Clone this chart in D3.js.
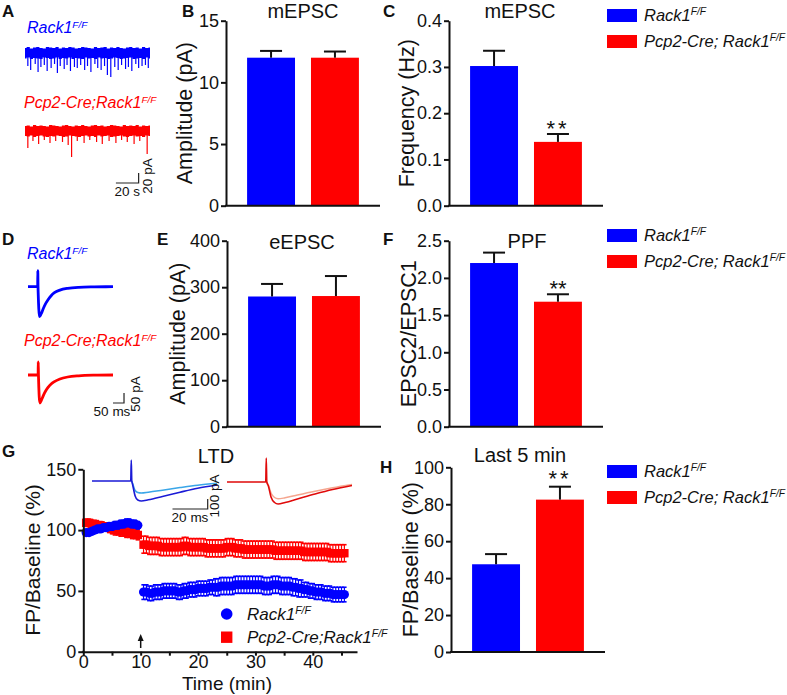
<!DOCTYPE html>
<html><head><meta charset="utf-8">
<script src="https://cdn.jsdelivr.net/npm/d3@7"></script>
<style>body{margin:0;background:#fff} svg{display:block} text{font-family:Arial,"Liberation Sans",sans-serif;fill:#111}</style>
</head><body><svg id="c" width="787" height="695"></svg>
<script>
// ---------------- DATA ----------------
const groups = ["Rack1", "Pcp2-Cre; Rack1"];
const groupsNoSpace = ["Rack1", "Pcp2-Cre;Rack1"];
const supText = "F/F";
const colors = ["#0000ff", "#ff0000"];

const mAmpMean = [12.0, 12.0], mAmpSem = [0.55, 0.5];
const mFreqMean = [0.302, 0.138], mFreqSem = [0.033, 0.017];
const eAmpMean = [280, 281], eAmpSem = [27, 43];
const ppfMean = [2.20, 1.68], ppfSem = [0.14, 0.10];
const last5Mean = [47.5, 82.5], last5Sem = [5.5, 7.0];

const ticksB = [0, 5, 10, 15];
const ticksC = [0, 0.1, 0.2, 0.3, 0.4];
const ticksE = [0, 100, 200, 300, 400];
const ticksF = [0, 0.5, 1.0, 1.5, 2.0, 2.5];
const ticksH = [0, 20, 40, 60, 80, 100];
const ticksGx = [0, 5, 10, 15, 20, 25, 30, 35, 40, 45];
const ticksGy = [0, 50, 100, 150];

// Panel A: mEPSC sample traces (time s, current pA)
const blueNoiseHi = [10,12,9,11,12,10,9,12,11,10,12,9,11,10,12,11,9,10,12,11,10,9,12,10,11,12,9,11,10,12,10,9,11,12,10,11,9,12,10,11];
const blueNoiseLo = [-11,-9,-12,-10,-11,-12,-9,-10,-12,-11,-9,-12,-10,-11,-9,-12,-10,-11,-12,-9,-11,-10,-12,-9,-11,-10,-12,-11,-9,-10,-12,-11,-10,-9,-12,-11,-10,-12,-9,-11];
const redNoiseHi = [10,11,9,12,10,11,10,9,12,11,10,9,11,12,10,9,11,10,12,10,9,11,12,10,11,9,10,12,11,10,9,12,10,11,10,12,9,11,10,11];
const redNoiseLo = [-10,-11,-9,-12,-10,-9,-11,-12,-10,-11,-9,-10,-12,-11,-9,-10,-11,-12,-10,-9,-11,-10,-12,-9,-11,-10,-9,-12,-11,-10,-9,-11,-12,-10,-9,-11,-10,-12,-9,-10];
const blueEvents = [[2.5,26],[5,34],[9,22],[11.5,38],[14,28],[17,24],[19.5,36],[23,30],[26,22],[28.5,40],[31,26],[34.5,32],[37,24],[40,36],[43.5,28],[46,30],[49,24],[52.5,34],[55,26],[58,38],[61.5,22],[64,30],[67,34],[70,26],[72.5,44],[75.5,48],[79,28],[82,34],[85,24],[88.5,32],[91,28],[94,36],[97.5,22],[100,30],[103,26],[106,24],[108.5,30]];
const redEvents = [[2.5,34],[7,20],[12,26],[17,18],[22,24],[27,20],[33,22],[38,28],[41,52],[46,20],[52,24],[57,18],[63,22],[68,26],[74,20],[80,24],[85,18],[90,22],[96,26],[101,20],[107.5,46]];

// Panel D: eEPSC sample traces (ms, pA)
const dBlue = [[0,0],[44,0],[44.5,80],[45.5,0],[46.5,-40],[49,-110],[52,-150],[60,-135],[70,-108],[80,-85],[91,-65],[105,-45],[120,-30],[145,-17],[180,-8],[230,-3],[300,-1],[386,0]];
const dRed = [[0,0],[46,0],[46.5,66],[47.5,0],[48.5,-40],[51,-110],[54,-140],[60,-128],[70,-102],[80,-80],[91,-62],[105,-45],[120,-33],[145,-20],[180,-10],[230,-4],[300,-1],[386,0]];

// Panel G inset traces (ms, pA): before (light) and after (dark) LTD
const gBlueAfter = [[0,0],[22,0],[22.3,210],[22.6,0],[23,-30],[24.5,-150],[26,-190],[28,-200],[32,-188],[40,-155],[50,-112],[60,-72],[71,-40]];
const gBlueBefore = [[22.6,0],[23,-20],[24.5,-95],[26,-115],[28,-120],[32,-112],[40,-92],[50,-66],[60,-42],[71,-22]];
const gRedAfter = [[0,0],[22,0],[22.3,240],[22.6,0],[23.5,-40],[25,-150],[27,-205],[29,-220],[33,-205],[40,-170],[50,-120],[60,-75],[71,-35]];
const gRedBefore = [[22.6,0],[23.5,-30],[25,-110],[27,-155],[29,-168],[33,-158],[40,-130],[50,-92],[60,-58],[71,-25]];

// Panel G time course
const gTime = [0.5,1,1.5,2,2.5,3,3.5,4,4.5,5,5.5,6,6.5,7,7.5,8,8.5,9,9.5,
  10.5,11,11.5,12,12.5,13,13.5,14,14.5,15,15.5,16,16.5,17,17.5,18,18.5,19,19.5,20,
  20.5,21,21.5,22,22.5,23,23.5,24,24.5,25,25.5,26,26.5,27,27.5,28,28.5,29,29.5,30,
  30.5,31,31.5,32,32.5,33,33.5,34,34.5,35,35.5,36,36.5,37,37.5,38,38.5,39,39.5,40,
  40.5,41,41.5,42,42.5,43,43.5,44,44.5,45,45.5];
const gBlueMean = [98,98,99,100,101,101,102,102,103,103,104,104,105,105,106,106,105,105,104,
  49,49,48,48,49,49,49,50,50,50, 50,50,49,49,50,50,51,51,51,52,
  52,52,52,53,53,53,53,54,54,54, 54,54,55,55,55,55,55,55,55,55,
  55,55,54,54,54,55,55,55,54,54, 54,54,53,53,52,52,51,51,50,50,
  49,49,49,48,48,48,47,47,47,47,47];
const gBlueSem = [2,2,2,2,2,2,2,2,3,3,3,3,3,3,3,3,3,3,3,
  6,6,6,6,6,6,6,6,6,6, 6,6,6,6,6,6,6,6,6,6,
  6,6,6,6,6,7,7,7,7,7, 7,7,7,7,7,7,7,7,7,7,
  7,7,7,7,7,7,7,7,7,7, 7,7,7,7,7,7,6,6,6,6,
  6,6,6,6,6,6,6,6,6,6,6];
const gRedMean = [106,106,105,105,104,104,103,103,102,101,100,100,99,99,98,98,97,97,96,
  88,88,87,87,87,87,86,86,86,86, 86,86,86,86,87,87,86,86,86,86,
  86,86,85,85,85,85,85,85,85,86, 86,86,85,85,85,84,84,84,84,84,
  84,84,84,84,84,84,83,83,83,83, 83,83,83,83,83,83,82,82,82,82,
  82,82,82,82,82,81,81,81,81,81,81];
const gRedSem = [3,3,3,3,3,3,3,3,4,4,4,4,4,4,4,4,4,4,4,
  7,7,7,7,7,7,7,7,7,7, 7,7,7,7,7,7,7,7,7,7,
  7,7,7,7,7,7,7,7,7,7, 7,7,7,7,7,7,7,7,7,7,
  7,7,7,7,7,7,7,7,7,7, 7,7,7,7,7,7,7,7,7,7,
  7,7,7,7,7,7,7,7,7,7,7];

// ---------------- DRAWING ----------------
const svg = d3.select("#c");
const FONT = 'Arial,"Liberation Sans",sans-serif';
const TICK_FS = 18, LAB_FS = 21.5, TITLE_FS = 20, LEG_FS = 16.5;

function supLabel(sel, main, sup) {
  sel.append("tspan").text(main);
  sel.append("tspan").text(sup).attr("font-size", "0.62em").attr("dy", "-0.55em");
}
function txt(x, y, s, size, opts = {}) {
  const t = svg.append("text").attr("x", x).attr("y", y).attr("font-size", size)
    .attr("text-anchor", opts.anchor || "start").text(s);
  if (opts.bold) t.attr("font-weight", "bold");
  if (opts.italic) t.attr("font-style", "italic");
  if (opts.fill) t.style("fill", opts.fill);
  if (opts.ls) t.attr("letter-spacing", opts.ls);
  return t;
}
function rotText(x, y, s, size) {
  return svg.append("text").attr("transform", `translate(${x},${y}) rotate(-90)`)
    .attr("text-anchor", "middle").attr("font-size", size).text(s);
}
function styleAxis(g, fs) {
  g.select(".domain").attr("stroke", "#111").attr("stroke-width", 2);
  g.selectAll(".tick line").attr("stroke", "#111").attr("stroke-width", 2);
  g.selectAll(".tick text").attr("font-size", fs).attr("font-family", FONT).style("fill", "#111");
}

const AXW = 154;
function barPanel(cfg) {
  const x = d3.scaleBand().domain(groups).range([cfg.x0, cfg.x0 + AXW]).paddingInner(0.25).paddingOuter(0.33);
  const y = d3.scaleLinear().domain([0, cfg.max]).range([cfg.y0, cfg.y1]);
  const g = svg.append("g");
  g.selectAll("rect.bar").data(groups).join("rect")
    .attr("x", d => x(d)).attr("width", x.bandwidth())
    .attr("y", (d, i) => y(cfg.mean[i])).attr("height", (d, i) => y(0) - y(cfg.mean[i]))
    .attr("fill", (d, i) => colors[i]);
  const eb = g.selectAll("g.eb").data(groups).join("g");
  eb.append("line").attr("x1", d => x(d) + x.bandwidth() / 2).attr("x2", d => x(d) + x.bandwidth() / 2)
    .attr("y1", (d, i) => y(cfg.mean[i])).attr("y2", (d, i) => y(cfg.mean[i] + cfg.sem[i]))
    .attr("stroke", "#111").attr("stroke-width", 2);
  eb.append("line").attr("x1", d => x(d) + x.bandwidth() / 2 - 11).attr("x2", d => x(d) + x.bandwidth() / 2 + 11)
    .attr("y1", (d, i) => y(cfg.mean[i] + cfg.sem[i])).attr("y2", (d, i) => y(cfg.mean[i] + cfg.sem[i]))
    .attr("stroke", "#111").attr("stroke-width", 2);
  const ax = g.append("g").attr("transform", `translate(${cfg.x0},0)`)
    .call(d3.axisLeft(y).tickValues(cfg.ticks).tickFormat(cfg.fmt).tickSize(5).tickSizeOuter(0).tickPadding(2));
  styleAxis(ax, TICK_FS);
  g.append("line").attr("x1", cfg.x0 - 1).attr("x2", cfg.x0 + AXW).attr("y1", y(0)).attr("y2", y(0))
    .attr("stroke", "#111").attr("stroke-width", 2);
  txt(cfg.titleX, cfg.titleY, cfg.title, TITLE_FS, { anchor: "middle" });
  rotText(cfg.labX, (cfg.y0 + cfg.y1) / 2, cfg.ylabel, LAB_FS);
  if (cfg.stars) {
    const i = 1;
    txt(x(groups[i]) + x.bandwidth() / 2, cfg.starY, "**", 22, { anchor: "middle", ls: cfg.starLs || 0 });
  }
}
function barLegend(y0) {
  groups.forEach((gname, i) => {
    svg.append("rect").attr("x", 607).attr("y", y0 + i * 26).attr("width", 30).attr("height", 13).attr("fill", colors[i]);
    const t = svg.append("text").attr("x", 644).attr("y", y0 + i * 26 + 12).attr("font-size", LEG_FS).attr("font-style", "italic");
    supLabel(t, gname, supText);
  });
}

// B
barPanel({x0: 226, y0: 205.7, y1: 20.7, max: 15, ticks: ticksB, fmt: d3.format("d"), mean: mAmpMean, sem: mAmpSem,
  title: "mEPSC", titleX: 303, titleY: 18, ylabel: "Amplitude (pA)", labX: 192});
// C
barPanel({x0: 449, y0: 205.7, y1: 20.7, max: 0.4, ticks: ticksC, fmt: d3.format(".1f"), mean: mFreqMean, sem: mFreqSem,
  title: "mEPSC", titleX: 520, titleY: 18, ylabel: "Frequency (Hz)", labX: 414, stars: true, starY: 136, starLs: 3});
barLegend(9);
// E
barPanel({x0: 227, y0: 426.7, y1: 240.7, max: 400, ticks: ticksE, fmt: d3.format("d"), mean: eAmpMean, sem: eAmpSem,
  title: "eEPSC", titleX: 302, titleY: 249, ylabel: "Amplitude (pA)", labX: 185});
// F
barPanel({x0: 449, y0: 426.7, y1: 240.7, max: 2.5, ticks: ticksF, fmt: d3.format(".1f"), mean: ppfMean, sem: ppfSem,
  title: "PPF", titleX: 527, titleY: 248, ylabel: "EPSC2/EPSC1", labX: 416, stars: true, starY: 296});
barLegend(229);
// H
barPanel({x0: 451, y0: 652, y1: 467.3, max: 100, ticks: ticksH, fmt: d3.format("d"), mean: last5Mean, sem: last5Sem,
  title: "Last 5 min", titleX: 520, titleY: 462, ylabel: "FP/Baseline (%)", labX: 418, stars: true, starY: 486, starLs: 3});
barLegend(465);

// Panel letters
[["A", 2, 17], ["B", 182, 17], ["C", 383, 17], ["D", 2, 245], ["E", 157, 245], ["F", 383, 245], ["G", 2, 457], ["H", 380, 473]]
  .forEach(([l, x, y]) => txt(x, y, l, 17, { bold: true }));

// ---- Panel A traces ----
const ax = d3.scaleLinear().domain([0, 110]).range([25, 150]);
function mTrace(center, hi, lo, events, color) {
  const y = d3.scaleLinear().domain([0, 20]).range([center, center - 10]);
  const idx = d3.scaleLinear().domain([0, hi.length - 1]).range([0, 110]);
  const area = d3.area().x((d, i) => ax(idx(i))).y0((d, i) => y(lo[i])).y1(d => y(d)).curve(d3.curveStep);
  svg.append("path").datum(hi).attr("d", area).attr("fill", color);
  svg.selectAll(null).data(events).join("line")
    .attr("x1", d => ax(d[0])).attr("x2", d => ax(d[0]))
    .attr("y1", y(0)).attr("y2", d => y(-d[1])).attr("stroke", color).attr("stroke-width", 1.2);
  return y;
}
mTrace(53, blueNoiseHi, blueNoiseLo, blueEvents, colors[0]);
mTrace(131, redNoiseHi, redNoiseLo, redEvents, colors[1]);
supLabel(txt(27, 33, "", 16, { italic: true, fill: colors[0] }), groupsNoSpace[0], supText);
supLabel(txt(24, 108, "", 16, { italic: true, fill: colors[1] }), groupsNoSpace[1], supText);
// scale bar A: 20 s, 20 pA
{
  const yS = d3.scaleLinear().domain([0, 20]).range([183, 173]);
  const x0 = ax(100), x1 = ax(80);
  svg.append("path").attr("d", `M${ax(80)},${yS(0)}H${ax(100)}V${yS(20)}`).attr("fill", "none").attr("stroke", "#222").attr("stroke-width", 1.2);
  txt((x0 + x1) / 2, 196, "20 s", 13.5, { anchor: "middle" });
  rotText(152, 176, "20 pA", 13.5);
}

// ---- Panel D traces ----
const dx = d3.scaleLinear().domain([0, 386]).range([28, 113]);
function eTrace(base, data, color) {
  const y = d3.scaleLinear().domain([0, 50]).range([base, base - 10]);
  svg.append("path").datum(data).attr("d", d3.line().x(d => dx(d[0])).y(d => y(d[1])).curve(d3.curveMonotoneX))
    .attr("fill", "none").attr("stroke", color).attr("stroke-width", 2.8).attr("stroke-linejoin", "round");
}
eTrace(286.7, dBlue, colors[0]);
eTrace(375, dRed, colors[1]);
supLabel(txt(27, 259, "", 16, { italic: true, fill: colors[0] }), groupsNoSpace[0], supText);
supLabel(txt(24, 346, "", 16, { italic: true, fill: colors[1] }), groupsNoSpace[1], supText);
{
  const yS = d3.scaleLinear().domain([0, 50]).range([403, 393]);
  const x0 = 113, x1 = x0 + (dx(50) - dx(0));
  svg.append("path").attr("d", `M${x0},${yS(0)}H${x1}V${yS(50)}`).attr("fill", "none").attr("stroke", "#222").attr("stroke-width", 1.2);
  txt(112, 416, "50 ms", 13.5, { anchor: "middle" });
  rotText(140, 394, "50 pA", 13.5);
}

// ---- Panel G time course ----
const gx = d3.scaleLinear().domain([0, 47.7]).range([83.3, 357]);
const gy = d3.scaleLinear().domain([0, 150]).range([651.7, 469.3]);
function series(mean, sem, color, shape) {
  const g = svg.append("g");
  const pts = gTime.map((t, i) => ({ t, m: mean[i], e: sem[i] }));
  g.selectAll("line.v").data(pts).join("line")
    .attr("x1", d => gx(d.t)).attr("x2", d => gx(d.t)).attr("y1", d => gy(d.m - d.e)).attr("y2", d => gy(d.m + d.e))
    .attr("stroke", color).attr("stroke-width", 1.2);
  [-1, 1].forEach(s => {
    g.selectAll(null).data(pts).join("line")
      .attr("x1", d => gx(d.t) - 2.2).attr("x2", d => gx(d.t) + 2.2)
      .attr("y1", d => gy(d.m + s * d.e)).attr("y2", d => gy(d.m + s * d.e))
      .attr("stroke", color).attr("stroke-width", 1.6);
  });
  if (shape === "circle") {
    g.selectAll("circle").data(pts).join("circle").attr("cx", d => gx(d.t)).attr("cy", d => gy(d.m)).attr("r", 4.6).attr("fill", color);
  } else {
    g.selectAll("rect").data(pts).join("rect").attr("x", d => gx(d.t) - 4.2).attr("y", d => gy(d.m) - 4.2)
      .attr("width", 8.4).attr("height", 8.4).attr("fill", color);
  }
}
series(gRedMean, gRedSem, colors[1], "square");
series(gBlueMean, gBlueSem, colors[0], "circle");
{
  const axg = svg.append("g").attr("transform", `translate(0,${gy(0)})`)
    .call(d3.axisBottom(gx).tickValues(ticksGx).tickFormat(d => d % 10 === 0 ? d : "").tickSize(4).tickSizeOuter(0).tickPadding(0));
  styleAxis(axg, TICK_FS);
  const ayg = svg.append("g").attr("transform", `translate(${gx(0)},0)`)
    .call(d3.axisLeft(gy).tickValues(ticksGy).tickSize(5).tickSizeOuter(0).tickPadding(2));
  styleAxis(ayg, TICK_FS);
  svg.append("line").attr("x1", gx(0) - 1).attr("x2", gx(0)).attr("y1", gy(0)).attr("y2", gy(0)).attr("stroke", "#111").attr("stroke-width", 2);
}
rotText(40, 560, "FP/Baseline (%)", 21);
txt(227, 690, "Time (min)", 19, { anchor: "middle" });
txt(216, 463, "LTD", TITLE_FS, { anchor: "middle" });
// arrow at 10 min
svg.append("line").attr("x1", gx(10)).attr("x2", gx(10)).attr("y1", 648).attr("y2", 637).attr("stroke", "#111").attr("stroke-width", 1.5);
svg.append("path").attr("d", `M${gx(10) - 3},${641}L${gx(10)},${634}L${gx(10) + 3},${641}Z`).attr("fill", "#111");
// G legend
svg.append("circle").attr("cx", 226.7).attr("cy", 614).attr("r", 5.8).attr("fill", colors[0]);
svg.append("rect").attr("x", 221).attr("y", 631.5).attr("width", 11.4).attr("height", 11.4).attr("fill", colors[1]);
supLabel(txt(247, 620, "", 17, { italic: true }), groupsNoSpace[0], supText);
supLabel(txt(247, 643, "", 17, { italic: true }), groupsNoSpace[1], supText);

// G inset traces
const ix = d3.scaleLinear().domain([0, 71]).range([92, 217]);
const ixR = d3.scaleLinear().domain([0, 71]).range([227, 352]);
function inset(xs, base, data, color, w) {
  const y = d3.scaleLinear().domain([0, 100]).range([base, base - 10]);
  svg.append("path").datum(data).attr("d", d3.line().x(d => xs(d[0])).y(d => y(d[1])).curve(d3.curveMonotoneX))
    .attr("fill", "none").attr("stroke", color).attr("stroke-width", w).attr("stroke-linejoin", "round");
}
inset(ix, 481, gBlueBefore, "#3aa6e8", 1.5);
inset(ix, 481, gBlueAfter, "#1a1ad6", 1.6);
inset(ixR, 482, gRedBefore, "#f5a68f", 1.5);
inset(ixR, 482, gRedAfter, "#e00a0a", 1.6);
{
  const yS = d3.scaleLinear().domain([0, 100]).range([509, 499]);
  const x1 = 207.7, x0 = x1 - (ix(20) - ix(0));
  svg.append("path").attr("d", `M${x0},${yS(0)}H${x1}V${yS(100)}`).attr("fill", "none").attr("stroke", "#222").attr("stroke-width", 1.2);
  txt(190, 522, "20 ms", 13.5, { anchor: "middle" });
  rotText(219, 496, "100 pA", 13.5);
}
</script></body></html>
